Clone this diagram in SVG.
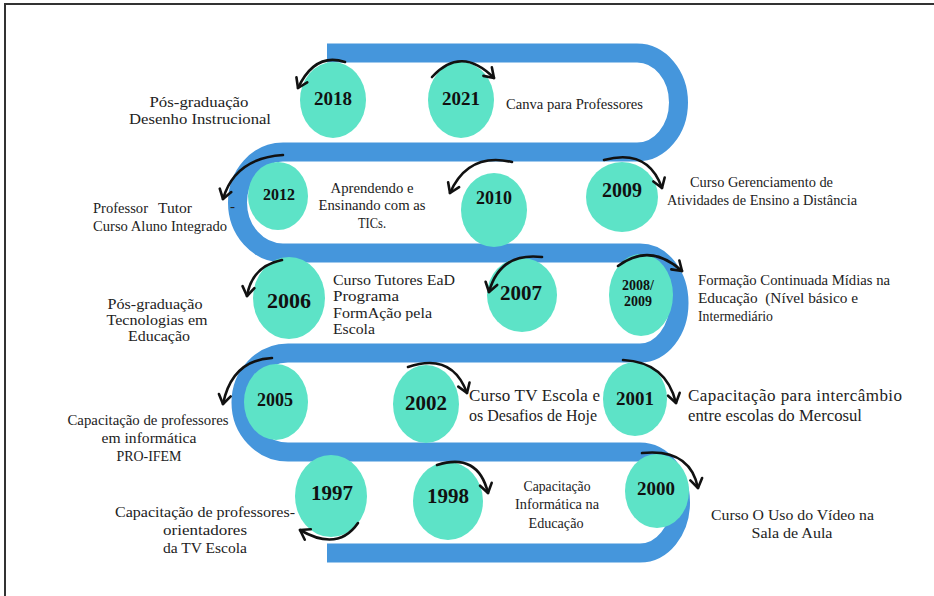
<svg xmlns="http://www.w3.org/2000/svg" width="934" height="596" viewBox="0 0 934 596">
<style>
.band{fill:none;stroke:#4596dc;stroke-width:19}
.dot{fill:#5de3c7}
.yr{font-family:"Liberation Serif",serif;font-weight:bold;fill:#111;text-anchor:middle}
.lbl{font-family:"Liberation Serif",serif;font-size:15px;fill:#222}
.big{font-size:17px}
.sm{font-size:14px}
.mid{text-anchor:middle}
.arr{fill:none;stroke:#111;stroke-width:2.6;stroke-linecap:round}
.frame{fill:none;stroke:#333;stroke-width:2}
</style>
<defs>
<marker id="ah" markerUnits="userSpaceOnUse" markerWidth="20" markerHeight="20" refX="0" refY="0" viewBox="-12 -10 20 20" orient="auto">
<path d="M-9,-6 L0,0 L-9,6" fill="none" stroke="#111" stroke-width="2.6" stroke-linecap="round" stroke-linejoin="round"/>
</marker>
</defs>
<rect width="934" height="596" fill="#fff"/>
<path class="frame" d="M5,596 V4 H934"/>
<path class="band" d="M327,53 H637 A41.5,49.5 0 0 1 637,152 H283 A45.5,50.5 0 0 0 283,253 H640 A39,50 0 0 1 640,353 H288 A47,49.5 0 0 0 288,452 H640 A40.5,50.5 0 0 1 640,553 H327"/>

<g id="n2018"><ellipse class="dot" cx="333" cy="100" rx="33" ry="38"/><text class="yr" x="333" y="105" font-size="19">2018</text>
<text class="lbl mid" x="199" y="107" textLength="99" lengthAdjust="spacingAndGlyphs">Pós-graduação</text>
<text class="lbl mid" x="200" y="124" textLength="142" lengthAdjust="spacingAndGlyphs">Desenho Instrucional</text></g>

<g id="n2021"><ellipse class="dot" cx="461" cy="100" rx="33" ry="38"/><text class="yr" x="461" y="105" font-size="19">2021</text>
<text class="lbl" x="506" y="109" textLength="137" lengthAdjust="spacingAndGlyphs">Canva para Professores</text></g>

<g id="n2012"><ellipse class="dot" cx="278" cy="196" rx="30" ry="34"/><text class="yr" x="279" y="200" font-size="16">2012</text>
<text class="lbl" y="213"><tspan x="93" textLength="55" lengthAdjust="spacingAndGlyphs">Professor</tspan><tspan x="158" textLength="34" lengthAdjust="spacingAndGlyphs">Tutor</tspan></text>
<text class="lbl" x="93" y="231" textLength="134" lengthAdjust="spacingAndGlyphs">Curso Aluno Integrado</text>
<text class="lbl" x="230" y="211" font-size="11px">-</text>
<text class="lbl mid" x="372" y="193" textLength="83" lengthAdjust="spacingAndGlyphs">Aprendendo e</text>
<text class="lbl mid" x="372" y="210" textLength="107" lengthAdjust="spacingAndGlyphs">Ensinando com as</text>
<text class="lbl mid" x="372" y="228" textLength="28" lengthAdjust="spacingAndGlyphs">TICs.</text></g>

<g id="n2010"><ellipse class="dot" cx="494" cy="210" rx="33" ry="37"/><text class="yr" x="494" y="204" font-size="18">2010</text></g>

<g id="n2009"><ellipse class="dot" cx="622" cy="197" rx="36" ry="35"/><text class="yr" x="622" y="197" font-size="20">2009</text>
<text class="lbl" x="690" y="187" textLength="143" lengthAdjust="spacingAndGlyphs">Curso Gerenciamento de</text>
<text class="lbl" x="667" y="205" textLength="190" lengthAdjust="spacingAndGlyphs">Atividades de Ensino a Distância</text></g>

<g id="n2006"><ellipse class="dot" cx="289" cy="298" rx="36" ry="41"/><text class="yr" x="289" y="308" font-size="22">2006</text>
<text class="lbl sm" x="333" y="285" textLength="122" lengthAdjust="spacingAndGlyphs">Curso Tutores EaD</text>
<text class="lbl sm" x="333" y="301" textLength="66" lengthAdjust="spacingAndGlyphs">Programa</text>
<text class="lbl sm" x="333" y="318" textLength="99" lengthAdjust="spacingAndGlyphs">FormAção pela</text>
<text class="lbl sm" x="333" y="334" textLength="42" lengthAdjust="spacingAndGlyphs">Escola</text>
<text class="lbl sm mid" x="155" y="309" textLength="95" lengthAdjust="spacingAndGlyphs">Pós-graduação</text>
<text class="lbl sm mid" x="157" y="325" textLength="101" lengthAdjust="spacingAndGlyphs">Tecnologias em</text>
<text class="lbl sm mid" x="159" y="341" textLength="62" lengthAdjust="spacingAndGlyphs">Educação</text></g>

<g id="n2007"><ellipse class="dot" cx="522" cy="295" rx="35" ry="37"/><text class="yr" x="521" y="300" font-size="21">2007</text></g>

<g id="n2008"><ellipse class="dot" cx="641" cy="295" rx="32" ry="41"/><text class="yr" x="638" y="290" font-size="14">2008/</text><text class="yr" x="638" y="306" font-size="14">2009</text>
<text class="lbl" x="698" y="285" textLength="192" lengthAdjust="spacingAndGlyphs">Formação Continuada Mídias na</text>
<text class="lbl" x="698" y="303" textLength="160" lengthAdjust="spacingAndGlyphs" style="white-space:pre">Educação  (Nível básico e</text>
<text class="lbl" x="698" y="321" textLength="75" lengthAdjust="spacingAndGlyphs">Intermediário</text></g>

<g id="n2005"><ellipse class="dot" cx="276" cy="402" rx="32" ry="38"/><text class="yr" x="275" y="406" font-size="18">2005</text>
<text class="lbl mid" x="148" y="425" textLength="161" lengthAdjust="spacingAndGlyphs">Capacitação de professores</text>
<text class="lbl mid" x="149" y="443" textLength="95" lengthAdjust="spacingAndGlyphs">em informática</text>
<text class="lbl mid" x="149" y="461" textLength="65" lengthAdjust="spacingAndGlyphs">PRO-IFEM</text></g>

<g id="n2002"><ellipse class="dot" cx="426" cy="404" rx="33" ry="39"/><text class="yr" x="426" y="410" font-size="21">2002</text>
<text class="lbl big" x="469" y="401" textLength="131" lengthAdjust="spacing">Curso TV Escola e</text>
<text class="lbl big" x="469" y="421" textLength="128" lengthAdjust="spacingAndGlyphs">os Desafios de Hoje</text></g>

<g id="n2001"><ellipse class="dot" cx="635" cy="399" rx="32" ry="37"/><text class="yr" x="635" y="405" font-size="19">2001</text>
<text class="lbl big" x="688" y="401" textLength="214" lengthAdjust="spacing">Capacitação para intercâmbio</text>
<text class="lbl big" x="688" y="421" textLength="174" lengthAdjust="spacingAndGlyphs">entre escolas do Mercosul</text></g>

<g id="n1997"><ellipse class="dot" cx="331" cy="496" rx="36" ry="41"/><text class="yr" x="332" y="500" font-size="21">1997</text>
<text class="lbl mid" x="205" y="517" textLength="180" lengthAdjust="spacingAndGlyphs">Capacitação de professores-</text>
<text class="lbl mid" x="205" y="535" textLength="84" lengthAdjust="spacingAndGlyphs">orientadores</text>
<text class="lbl mid" x="205" y="553" textLength="84" lengthAdjust="spacingAndGlyphs">da TV Escola</text></g>

<g id="n1998"><ellipse class="dot" cx="448" cy="501" rx="35" ry="39"/><text class="yr" x="448" y="503" font-size="21">1998</text>
<text class="lbl mid" x="557" y="491" textLength="67" lengthAdjust="spacingAndGlyphs">Capacitação</text>
<text class="lbl mid" x="557" y="509" textLength="84" lengthAdjust="spacingAndGlyphs">Informática na</text>
<text class="lbl mid" x="556" y="528" textLength="55" lengthAdjust="spacingAndGlyphs">Educação</text></g>

<g id="n2000"><ellipse class="dot" cx="657" cy="491" rx="32" ry="37"/><text class="yr" x="656" y="495" font-size="19">2000</text>
<text class="lbl" x="711" y="520" textLength="163" lengthAdjust="spacingAndGlyphs">Curso O Uso do Vídeo na</text>
<text class="lbl mid" x="792" y="538" textLength="81" lengthAdjust="spacingAndGlyphs">Sala de Aula</text></g>

<g id="connectors">
<path class="arr" marker-end="url(#ah)" d="M345,62 Q315,52 298,88"/>
<path class="arr" marker-end="url(#ah)" d="M432,77 Q461,45 494,78"/>
<path class="arr" marker-end="url(#ah)" d="M283,155 Q235,158 223,199"/>
<path class="arr" marker-end="url(#ah)" d="M512,162 Q468,152 450,193"/>
<path class="arr" marker-end="url(#ah)" d="M604,160 Q648,148 662,188"/>
<path class="arr" marker-end="url(#ah)" d="M282,260 Q252,266 247,296"/>
<path class="arr" marker-end="url(#ah)" d="M542,257 Q500,252 489,292"/>
<path class="arr" marker-end="url(#ah)" d="M618,266 Q650,242 682,271"/>
<path class="arr" marker-end="url(#ah)" d="M272,358 Q232,360 223,404"/>
<path class="arr" marker-end="url(#ah)" d="M408,367 Q452,352 467,393"/>
<path class="arr" marker-end="url(#ah)" d="M623,360 Q666,362 676,403"/>
<path class="arr" marker-end="url(#ah)" d="M642,453 Q690,448 698,488"/>
<path class="arr" marker-end="url(#ah)" d="M437,465 Q478,452 488,493"/>
<path class="arr" marker-end="url(#ah)" d="M358,523 Q338,552 300,530"/>
</g>
</svg>
